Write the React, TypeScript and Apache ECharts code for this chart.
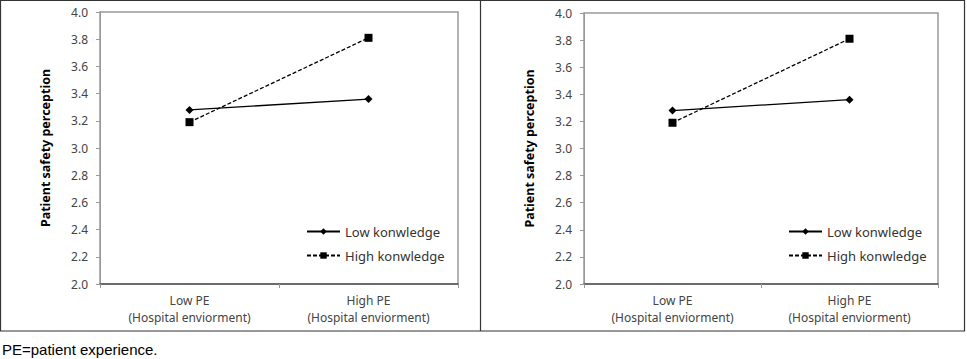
import React, { useEffect, useRef } from "react";
import * as echarts from "echarts";

const categories = ["Low PE\n(Hospital enviorment)", "High PE\n(Hospital enviorment)"];
const seriesNames = ["Low konwledge", "High konwledge"];
const leftLow = [3.28, 3.36];
const leftHigh = [3.19, 3.81];
const rightLow = [3.28, 3.36];
const rightHigh = [3.19, 3.81];
const yTitle = "Patient safety perception";
const footnote = "PE=patient experience.";

const FONT = "'Noto Sans', 'DejaVu Sans', sans-serif";

function yAxis(gridIndex: number) {
  return {
    type: "value",
    gridIndex,
    min: 2,
    max: 4,
    interval: 0.2,
    name: yTitle,
    nameLocation: "middle",
    nameGap: 48,
    nameRotate: 90,
    nameTextStyle: { fontFamily: FONT, fontSize: 12.5, fontWeight: "bold", color: "#000" },
    axisLine: { show: true, lineStyle: { color: "#999", width: 1 } },
    axisTick: { show: true, length: 4, lineStyle: { color: "#999" } },
    splitLine: { show: false },
    axisLabel: {
      fontFamily: FONT,
      fontSize: 12,
      color: "#444",
      margin: 12,
      formatter: (v: number) => v.toFixed(1),
    },
  };
}

function xAxis(gridIndex: number) {
  return {
    type: "category",
    gridIndex,
    data: categories,
    boundaryGap: true,
    axisLine: { show: true, lineStyle: { color: "#555", width: 1.5 } },
    axisTick: { show: true, length: 4, lineStyle: { color: "#999" } },
    axisLabel: {
      fontFamily: FONT,
      fontSize: 12,
      color: "#444",
      lineHeight: 17,
      margin: 8,
    },
  };
}

function lineSeries(name: string, data: number[], idx: number, dashed: boolean) {
  return {
    type: "line",
    name,
    xAxisIndex: idx,
    yAxisIndex: idx,
    data,
    symbol: dashed ? "rect" : "diamond",
    symbolSize: 8,
    itemStyle: { color: "#000" },
    lineStyle: { color: "#000", width: 1.3, type: dashed ? [4, 2] : "solid" },
  };
}

function legend(left: number) {
  return {
    orient: "vertical",
    left,
    top: 225,
    itemWidth: 33,
    itemHeight: 8,
    itemGap: 11,
    data: seriesNames,
    textStyle: { fontFamily: FONT, fontSize: 13, color: "#333" },
    padding: 0,
  };
}

export default function App() {
  const ref = useRef<HTMLDivElement>(null);
  useEffect(() => {
    if (!ref.current) return;
    const chart = echarts.init(ref.current, null, { renderer: "svg" });
    chart.setOption({
      animation: false,
      backgroundColor: "#fff",
      grid: [
        { left: 100, top: 12, width: 358, height: 272, show: true, borderColor: "#999", borderWidth: 1.5 },
        { left: 584, top: 13, width: 354, height: 271, show: true, borderColor: "#999", borderWidth: 1.5 },
      ],
      xAxis: [xAxis(0), xAxis(1)],
      yAxis: [yAxis(0), yAxis(1)],
      legend: [legend(306), legend(788)],
      series: [
        lineSeries(seriesNames[0], leftLow, 0, false),
        lineSeries(seriesNames[1], leftHigh, 0, true),
        lineSeries(seriesNames[0], rightLow, 1, false),
        lineSeries(seriesNames[1], rightHigh, 1, true),
      ],
      graphic: [
        {
          type: "rect",
          shape: { x: 0.5, y: 0.5, width: 964, height: 330.5 },
          style: { fill: "none", stroke: "#333", lineWidth: 1.2 },
          silent: true,
        },
        {
          type: "line",
          shape: { x1: 480.5, y1: 0.5, x2: 480.5, y2: 331 },
          style: { stroke: "#333", lineWidth: 1.2 },
          silent: true,
        },
        {
          type: "text",
          left: 2,
          top: 342,
          style: { text: footnote, fontFamily: "'Liberation Sans', Arial, sans-serif", fontSize: 15, fill: "#000" },
          silent: true,
        },
      ],
    });
    return () => chart.dispose();
  }, []);
  return (
    <div
      ref={ref}
      style={{ position: "fixed", left: 0, top: 0, width: 967, height: 359, background: "#fff" }}
    />
  );
}
